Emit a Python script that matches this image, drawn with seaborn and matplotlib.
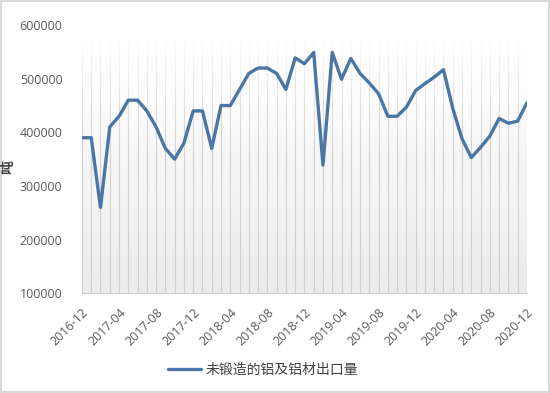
import numpy as np
import pandas as pd
import matplotlib
matplotlib.use('Agg')
import matplotlib.pyplot as plt
from matplotlib.colors import LinearSegmentedColormap
import seaborn as sns

# monthly export volume, 2016-12 .. 2020-12 (tons)
months = pd.date_range('2016-12-01', '2020-12-01', freq='MS').strftime('%Y-%m').tolist()
volume = [390000, 390000, 260000, 410000, 430000, 460000, 460000, 440000, 410000,
          370000, 350000, 380000, 440000, 440000, 370000, 450000, 450000, 480000,
          510000, 520000, 520000, 510000, 480000, 539000, 528000, 549000, 339000,
          549000, 499000, 538000, 510000, 492000, 472000, 430000, 430000, 447000,
          478000, 491000, 503000, 517000, 445000, 388000, 353000, 372000, 393000,
          426000, 417000, 421000, 455000]
series_name = '未锻造的铝及铝材出口量'
y_ticks = [100000, 200000, 300000, 400000, 500000, 600000]

df = pd.DataFrame({'idx': range(len(months)), 'month': months, 'volume': volume})

sns.set_style('white')
plt.rcParams['font.family'] = ['Noto Sans CJK SC', 'DejaVu Sans']

fig = plt.figure(figsize=(5.5, 3.93), dpi=100)
fig.patch.set_edgecolor('#d9d9d9')
fig.patch.set_linewidth(1.5)
ax = fig.add_axes([0.149, 0.254, 0.809, 0.682])

# grey background getting lighter towards the top
grad = LinearSegmentedColormap.from_list('g', ['#ebebeb', '#ffffff'])
ax.imshow(np.linspace(0, 1, 256).reshape(-1, 1), cmap=grad, origin='lower',
          extent=(0, 1, 0, 0.9), transform=ax.transAxes, aspect='auto', zorder=0)

ax.grid(axis='x', which='both', color='#d0d0d0', lw=0.8, zorder=1)
ax.grid(axis='y', visible=False)

# white veil so the grid fades out near the top
veil = np.ones((256, 1, 4))
veil[:, 0, 3] = np.clip((np.linspace(0, 1, 256) - 0.45) / 0.5, 0, 1) ** 1.5
ax.imshow(veil, origin='lower', extent=(0, 1, 0, 1), transform=ax.transAxes,
          aspect='auto', zorder=2)

sns.lineplot(data=df, x='idx', y='volume', ax=ax, color='#4a76a6', lw=2.4,
             label=series_name, zorder=3)

ax.set_xlim(0, len(months) - 1)
ax.set_ylim(100000, 600000)
ax.set_yticks(y_ticks)
ax.set_yticklabels([str(v) for v in y_ticks], family='Open Sans')
ax.set_xticks(df['idx'][::4])
ax.set_xticklabels(df['month'][::4], rotation=45, ha='right', rotation_mode='anchor',
                   family='Open Sans')
ax.set_xticks(df['idx'], minor=True)
ax.tick_params(axis='y', length=0, pad=14, labelsize=9, labelcolor='#595959')
ax.tick_params(axis='x', which='both', length=3, color='#d0d0d0', pad=6,
               labelsize=9, labelcolor='#595959')

for s in ['left', 'top', 'right']:
    ax.spines[s].set_visible(False)
ax.spines['bottom'].set_color('#d0d0d0')
ax.spines['bottom'].set_zorder(4)

ax.set_xlabel('')
ax.set_ylabel('吨', fontsize=10, color='#404040', fontweight='bold')
ax.yaxis.set_label_coords(-0.15, 0.47)

ax.legend(loc='center', bbox_to_anchor=(263 / 550, 1 - 370 / 393),
          bbox_transform=fig.transFigure, frameon=False, fontsize=10,
          handlelength=2.4, handletextpad=0.3, labelcolor='#404040')

fig.savefig('out.png', dpi=100, edgecolor=fig.get_edgecolor())
